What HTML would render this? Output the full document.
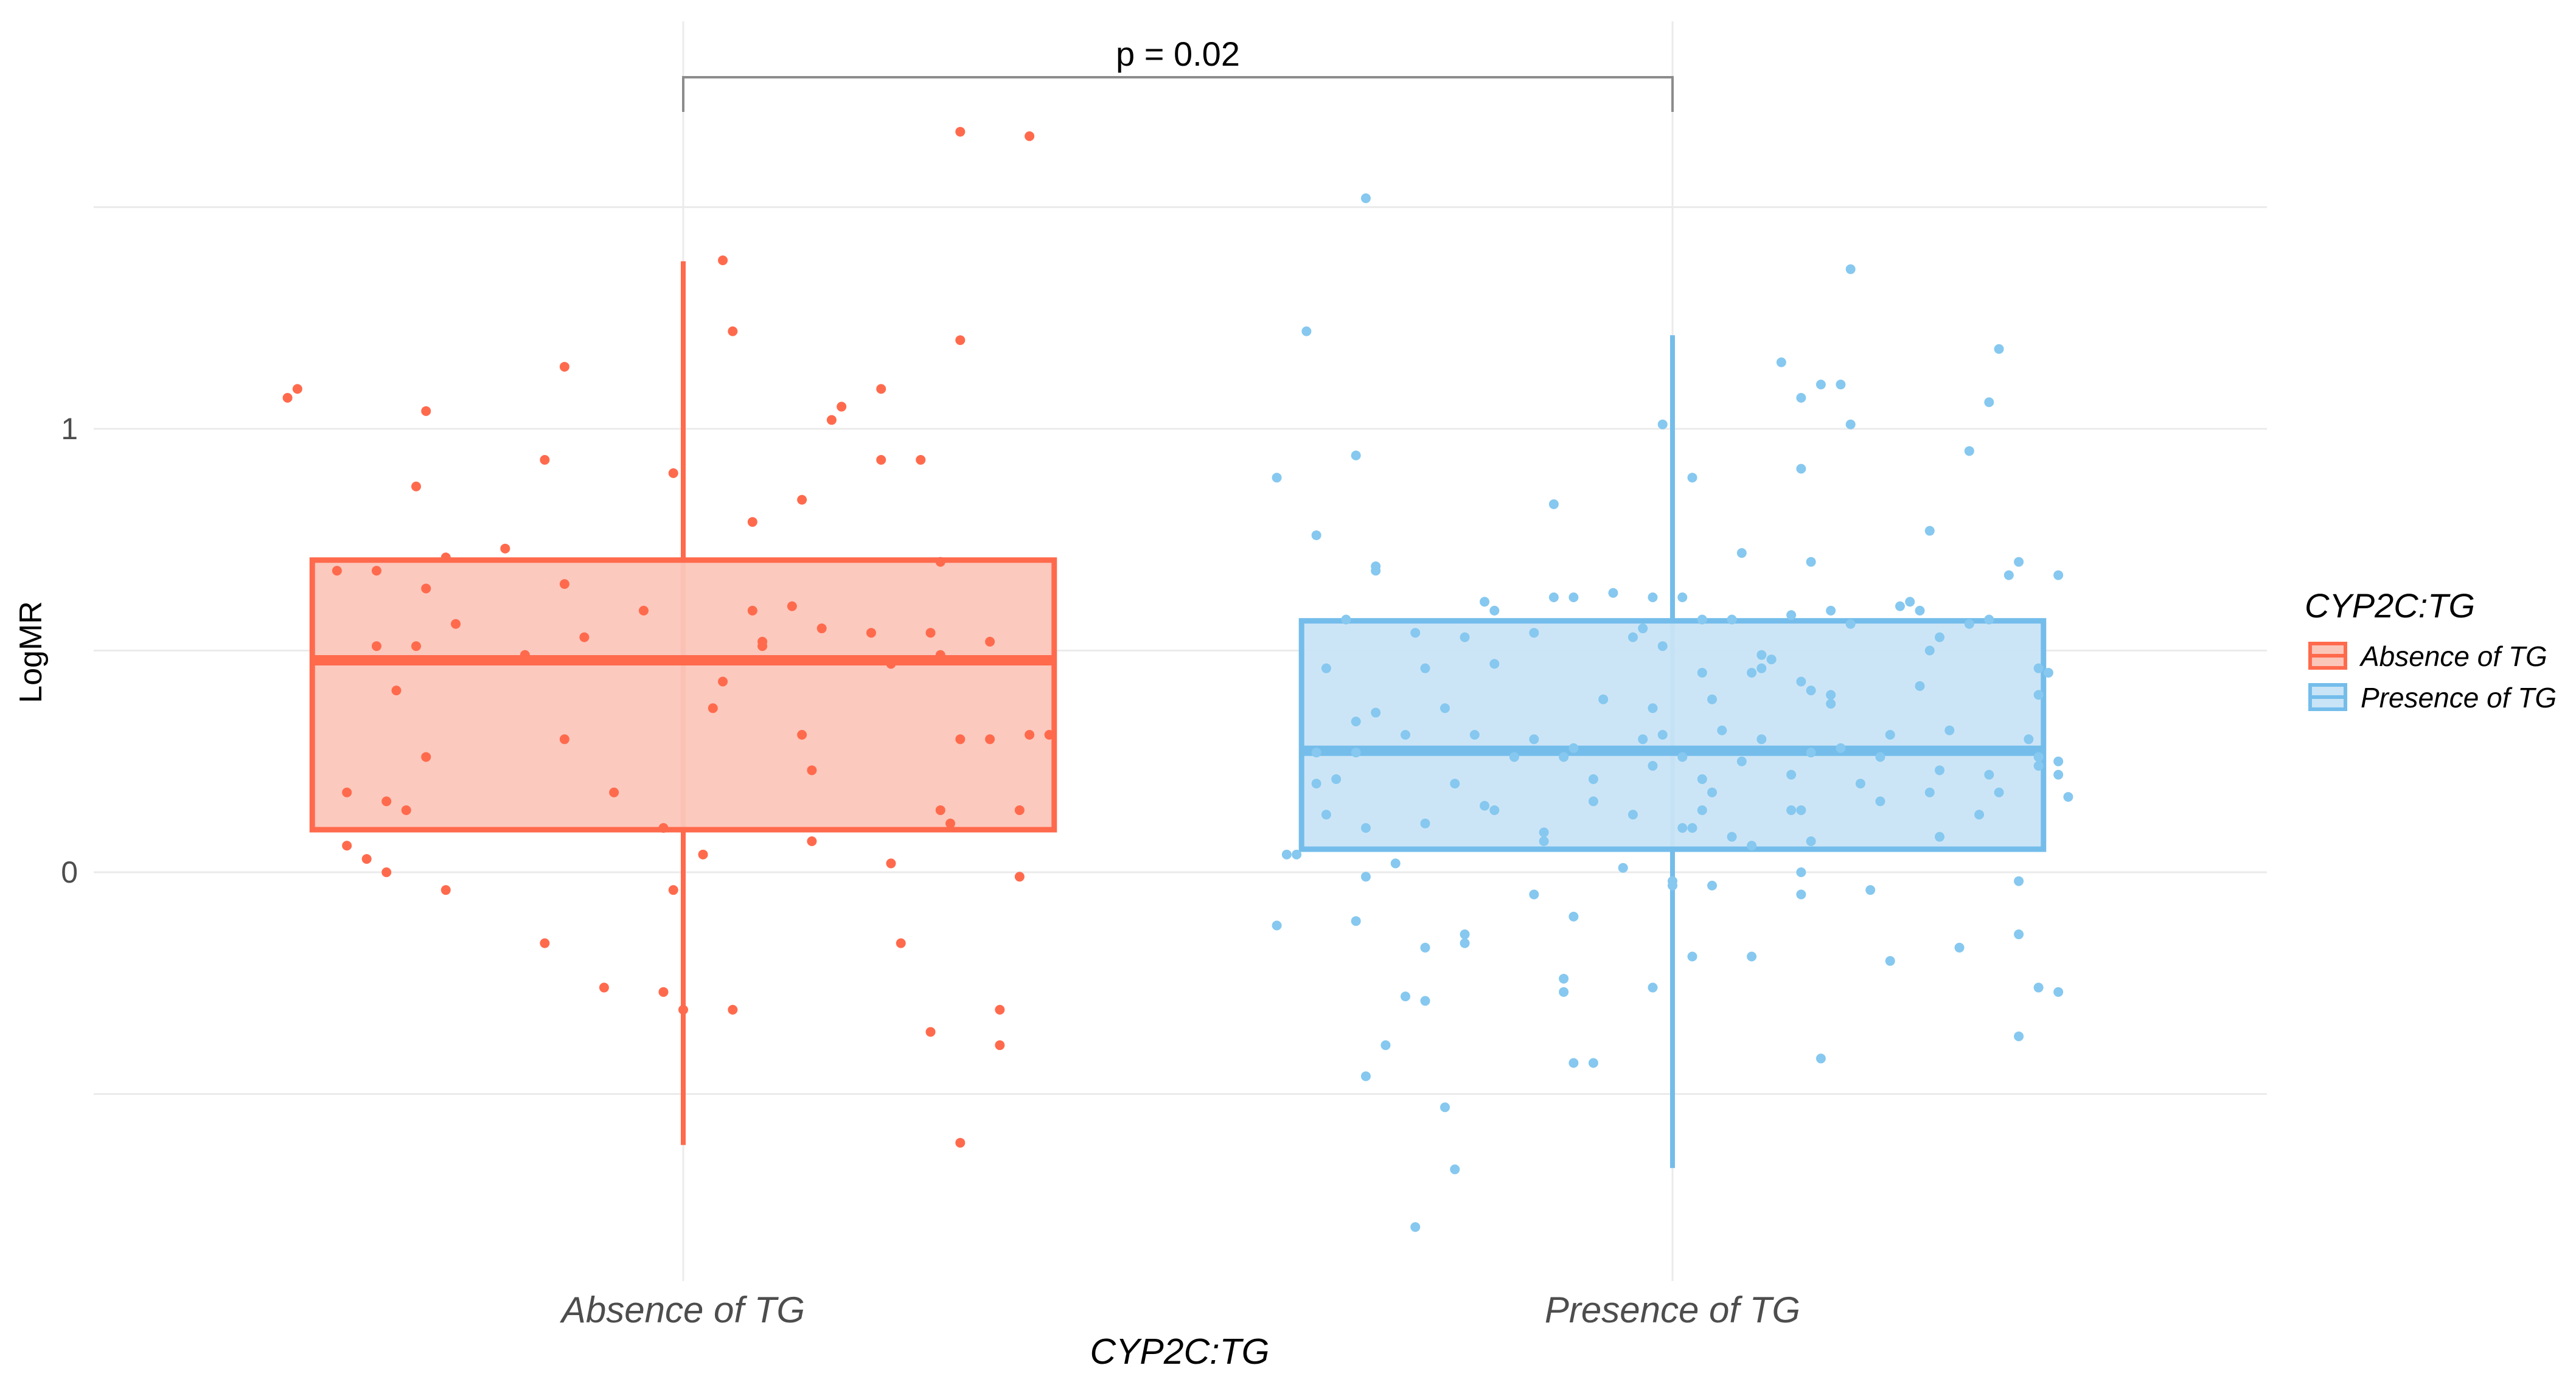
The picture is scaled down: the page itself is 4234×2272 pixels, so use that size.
<!DOCTYPE html>
<html><head><meta charset="utf-8"><style>
html,body{margin:0;padding:0;background:#fff;}
svg{display:block;font-family:"Liberation Sans",sans-serif;}
</style></head><body>
<svg id="chart" width="4234" height="2272" viewBox="0 0 4234 2272" xmlns="http://www.w3.org/2000/svg">
<g id="grid"></g>
<g id="marks"></g>
<g id="axes"></g>
<text x="0" y="0" transform="translate(68,1072) rotate(-90)" text-anchor="middle" font-size="52" fill="#000">LogMR</text>
<text x="1939" y="2242" text-anchor="middle" font-size="59" font-style="italic" fill="#000">CYP2C:TG</text>
<g>
<polyline points="1123,184 1123,127 2749,127 2749,184" fill="none" stroke="#8c8c8c" stroke-width="4"/>
<text x="1936" y="108" text-anchor="middle" font-size="56" fill="#000">p = 0.02</text>
</g>
<g>
<text x="3788" y="1015" font-size="56" font-style="italic" fill="#000">CYP2C:TG</text>
<g>
<rect x="3797" y="1058" width="58" height="40" fill="#fbc6ba" stroke="#ff6a4d" stroke-width="6"/>
<line x1="3797" y1="1078" x2="3855" y2="1078" stroke="#ff6a4d" stroke-width="6"/>
<text x="3880" y="1095" font-size="46" font-style="italic" fill="#000">Absence of TG</text>
</g>
<g>
<rect x="3797" y="1126" width="58" height="40" fill="#c9e4f6" stroke="#74bdeb" stroke-width="6"/>
<line x1="3797" y1="1146" x2="3855" y2="1146" stroke="#74bdeb" stroke-width="6"/>
<text x="3880" y="1163" font-size="46" font-style="italic" fill="#000">Presence of TG</text>
</g>
</g>
</svg>
<script>
const categories = ["Absence of TG","Presence of TG"];
const yTicks = [0, 1];
const yGrid = [-0.5, 0, 0.5, 1, 1.5];
const medians = [0.478, 0.274];
const q1s = [0.096, 0.052];
const q3s = [0.704, 0.567];
const whiskerLow = [-0.615, -0.667];
const whiskerHigh = [1.378, 1.211];
const absenceJitter = [-0.40,-0.39,-0.26,-0.12,-0.27,-0.14,0.04,0.05,0.28,0.35,0.28,-0.01,0.20,0.16,0.15,0.20,0.24,0.12,0.07,-0.35,-0.31,-0.24,-0.18,-0.26,-0.12,-0.04,-0.23,-0.31,-0.27,-0.10,-0.16,0.08,0.11,0.07,0.14,0.19,0.25,0.31,0.26,-0.29,0.04,0.03,0.08,0.21,0.26,-0.26,-0.12,0.12,0.13,0.35,0.37,0.28,0.31,-0.34,-0.30,-0.28,-0.07,0.26,0.27,0.34,-0.02,-0.34,-0.32,-0.30,0.02,0.13,0.21,0.34,-0.24,-0.01,-0.14,0.22,-0.08,-0.02,0.00,0.05,0.32,0.25,0.32,0.28];
const absenceValues = [1.07,1.09,1.04,1.14,0.87,0.93,1.38,1.22,1.67,1.66,1.20,0.90,1.09,1.05,1.02,0.93,0.93,0.84,0.79,0.68,0.68,0.71,0.73,0.64,0.65,0.59,0.56,0.51,0.51,0.53,0.49,0.52,0.60,0.59,0.55,0.54,0.54,0.52,0.70,0.41,0.43,0.37,0.51,0.47,0.49,0.26,0.30,0.31,0.23,0.31,0.31,0.30,0.30,0.18,0.16,0.14,0.18,0.14,0.11,0.14,0.10,0.06,0.03,0.00,0.04,0.07,0.02,-0.01,-0.04,-0.04,-0.16,-0.16,-0.26,-0.27,-0.31,-0.31,-0.31,-0.36,-0.39,-0.61];
const presenceJitter = [-0.31,-0.37,0.18,0.33,0.11,0.13,0.15,0.17,0.32,-0.01,0.18,-0.32,0.30,0.02,0.13,-0.40,-0.12,-0.36,0.26,-0.30,-0.30,0.07,0.14,0.35,0.34,0.39,-0.33,0.03,-0.19,-0.18,-0.12,-0.10,-0.06,-0.02,0.01,0.16,0.23,0.24,0.25,0.30,0.32,-0.26,-0.21,-0.14,-0.04,-0.03,0.06,0.12,0.18,0.27,0.09,0.10,0.03,0.09,0.26,0.37,0.38,-0.35,-0.25,-0.18,-0.01,0.08,0.13,0.14,0.16,0.16,0.25,0.37,-0.32,-0.30,-0.23,-0.07,0.04,-0.02,-0.27,-0.20,-0.14,-0.10,-0.03,-0.01,0.05,0.09,0.22,0.28,0.36,-0.36,-0.32,-0.16,-0.11,-0.02,0.01,0.07,0.14,0.17,0.21,0.37,0.39,0.39,0.40,0.37,-0.36,-0.34,-0.22,-0.08,0.03,0.12,0.19,0.27,0.32,-0.19,-0.08,0.04,0.26,0.33,-0.35,-0.31,-0.25,-0.18,-0.04,0.03,0.12,0.13,0.21,0.31,0.01,0.06,0.08,0.14,0.27,-0.13,-0.13,0.02,-0.38,-0.39,-0.28,-0.05,0.13,0.00,0.00,0.04,0.13,0.20,0.35,-0.31,-0.14,-0.10,-0.40,-0.32,-0.25,-0.21,-0.21,0.02,0.08,0.22,0.29,0.35,-0.27,-0.25,-0.11,-0.11,-0.02,0.37,0.39,-0.29,-0.31,-0.10,-0.08,0.15,0.35,-0.23,-0.22,-0.26];
const presenceValues = [1.52,1.22,1.36,1.18,1.15,1.07,1.10,1.10,1.06,1.01,1.01,0.94,0.95,0.89,0.91,0.89,0.83,0.76,0.77,0.69,0.68,0.72,0.70,0.70,0.67,0.67,0.57,0.57,0.61,0.59,0.62,0.62,0.63,0.62,0.62,0.59,0.60,0.61,0.59,0.56,0.57,0.54,0.53,0.54,0.53,0.55,0.57,0.58,0.56,0.53,0.49,0.48,0.45,0.46,0.50,0.46,0.45,0.46,0.46,0.47,0.51,0.45,0.43,0.41,0.38,0.40,0.42,0.40,0.34,0.36,0.37,0.39,0.39,0.37,0.31,0.31,0.30,0.28,0.30,0.31,0.32,0.30,0.31,0.32,0.30,0.27,0.27,0.26,0.26,0.24,0.26,0.25,0.27,0.28,0.26,0.26,0.25,0.22,0.17,0.24,0.20,0.21,0.20,0.21,0.21,0.22,0.20,0.23,0.22,0.15,0.16,0.18,0.18,0.18,0.13,0.10,0.11,0.14,0.13,0.14,0.14,0.14,0.16,0.13,0.10,0.08,0.06,0.07,0.08,0.07,0.09,0.10,0.04,0.04,0.02,0.01,0.00,-0.02,-0.03,-0.03,-0.05,-0.04,-0.02,-0.01,-0.05,-0.10,-0.12,-0.11,-0.17,-0.14,-0.16,-0.19,-0.19,-0.20,-0.17,-0.14,-0.28,-0.29,-0.24,-0.27,-0.26,-0.26,-0.27,-0.39,-0.46,-0.43,-0.43,-0.42,-0.37,-0.53,-0.67,-0.80];

const NS = "http://www.w3.org/2000/svg";
const PL = 154, PR = 3726, PT = 35, PB = 2106;
const Y0 = 1434, YU = 729;
const XC0 = 1123, XSTEP = 1626;
function yScale(v){ return Y0 - v * YU; }
function xScale(c){ return XC0 + c * XSTEP; }
const strokes = ["#ff6a4d", "#74bdeb"];
const fills = ["#fbc6ba", "#c9e4f6"];
const ptFills = ["#ff6a4d", "#86c8ef"];
function mk(tag, attrs, parent){ const e = document.createElementNS(NS, tag); for (const k in attrs) e.setAttribute(k, attrs[k]); parent.appendChild(e); return e; }

const grid = document.getElementById('grid');
yGrid.forEach(v => {
  const l = mk('line', {x1:PL, x2:PR, y1:yScale(v), y2:yScale(v), stroke:'#ebebeb', 'stroke-width': 3}, grid);
  
  
});
categories.forEach((c, i) => {
  const l = mk('line', {x1:xScale(i), x2:xScale(i), y1:PT, y2:PB, stroke:'#ebebeb', 'stroke-width': 3}, grid);
  
  
});

const axes = document.getElementById('axes');
yTicks.forEach(v => {
  const t = mk('text', {x:128, y:yScale(v)+17, 'text-anchor':'end', 'font-size':50, fill:'#4d4d4d'}, axes);
  t.textContent = String(v);
  
  
});
categories.forEach((c, i) => {
  const t = mk('text', {x:xScale(i), y:2174, 'text-anchor':'middle', 'font-size':60, 'font-style':'italic', fill:'#4d4d4d'}, axes);
  t.textContent = c;
  
  
});

const marks = document.getElementById('marks');
const HW = 0.375;
categories.forEach((c, i) => {
  const g = mk('g', {}, marks);
  
  
  const wl = mk('line', {x1:xScale(i), x2:xScale(i), y1:yScale(whiskerHigh[i]), y2:yScale(whiskerLow[i]), stroke:strokes[i], 'stroke-width':8}, g);
  
  
  const r = mk('rect', {x:xScale(i - HW), y:yScale(q3s[i]), width:xScale(i + HW) - xScale(i - HW), height:yScale(q1s[i]) - yScale(q3s[i]), fill:fills[i], 'fill-opacity':0.95, stroke:strokes[i], 'stroke-width':9}, g);
  
  
  const m = mk('line', {x1:xScale(i - HW), x2:xScale(i + HW), y1:yScale(medians[i]), y2:yScale(medians[i]), stroke:strokes[i], 'stroke-width':17}, g);
  
  
});
const series = [[absenceJitter, absenceValues], [presenceJitter, presenceValues]];
series.forEach((s, i) => {
  const g = mk('g', {}, marks);
  
  
  s[1].forEach((v, k) => {
    const p = mk('circle', {cx:xScale(i + s[0][k]), cy:yScale(v), r:8, fill:ptFills[i]}, g);
    
    
  });
});
</script>
</body></html>
